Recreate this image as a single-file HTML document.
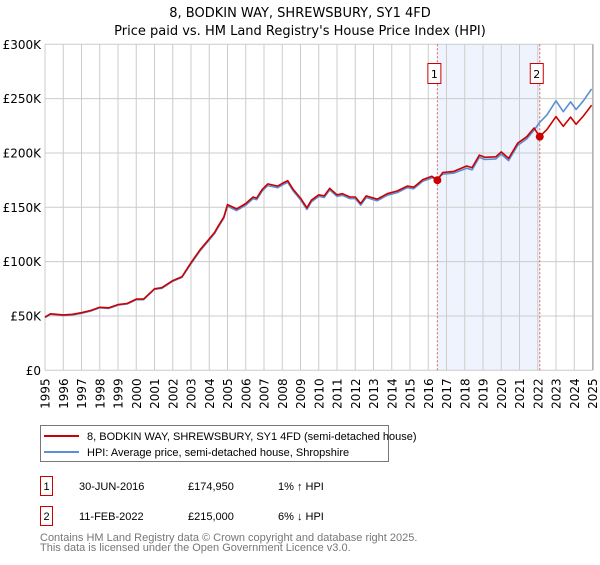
<!DOCTYPE html>
<html><head><meta charset="utf-8"><style>
body{margin:0;background:#fff;font-family:"Liberation Sans","DejaVu Sans",sans-serif;}
svg text{font-family:"DejaVu Sans","Liberation Sans",sans-serif;}
svg text.ls{font-family:"Liberation Sans","DejaVu Sans",sans-serif;}
</style></head><body>
<svg id="c" width="600" height="560" xmlns="http://www.w3.org/2000/svg">
<text x="300" y="17" text-anchor="middle" font-size="13">8, BODKIN WAY, SHREWSBURY, SY1 4FD</text>
<text x="300" y="35" text-anchor="middle" font-size="13">Price paid vs. HM Land Registry's House Price Index (HPI)</text>
<g id="plot"></g>
<g>
<rect x="40.5" y="425.5" width="348" height="36" fill="#fff" stroke="#777"/>
<line x1="44" y1="436" x2="79" y2="436" stroke="#cc0000" stroke-width="2"/>
<text class="ls" x="87" y="440" font-size="11">8, BODKIN WAY, SHREWSBURY, SY1 4FD (semi-detached house)</text>
<line x1="44" y1="452" x2="79" y2="452" stroke="#5b8fd4" stroke-width="2"/>
<text class="ls" x="87" y="456" font-size="11">HPI: Average price, semi-detached house, Shropshire</text>
</g>
<g font-size="11">
<rect x="40.5" y="476.5" width="12" height="19" fill="#fff" stroke="#cc0000"/>
<text class="ls" x="46.5" y="490" text-anchor="middle">1</text>
<text class="ls" x="79" y="490">30-JUN-2016</text><text class="ls" x="188" y="490">£174,950</text><text class="ls" x="278" y="490">1% ↑ HPI</text>
<rect x="40.5" y="506.5" width="12" height="19" fill="#fff" stroke="#cc0000"/>
<text class="ls" x="46.5" y="520" text-anchor="middle">2</text>
<text class="ls" x="79" y="520">11-FEB-2022</text><text class="ls" x="188" y="520">£215,000</text><text class="ls" x="278" y="520">6% ↓ HPI</text>
</g>
<text class="ls" x="40" y="541" font-size="11" fill="#777">Contains HM Land Registry data © Crown copyright and database right 2025.</text>
<text class="ls" x="40" y="551" font-size="11" fill="#777">This data is licensed under the Open Government Licence v3.0.</text>
</svg>
<script>
const hpiYears=[1995,1995.3,1996,1996.5,1997,1997.5,1998,1998.5,1999,1999.5,2000,2000.4,2001,2001.4,2002,2002.5,2003,2003.5,2004,2004.3,2004.5,2004.8,2005,2005.5,2006,2006.4,2006.6,2006.9,2007.2,2007.75,2008.05,2008.3,2008.6,2009,2009.35,2009.6,2010,2010.3,2010.6,2011,2011.3,2011.7,2012,2012.3,2012.6,2013.2,2013.75,2014.3,2014.85,2015.2,2015.7,2016.2,2016.5,2016.8,2017.4,2018.1,2018.4,2018.8,2019.1,2019.7,2020,2020.4,2020.9,2021.4,2021.8,2022.1,2022.5,2023,2023.4,2023.8,2024.1,2024.5,2024.95];
const hpiValues=[48500,51500,50500,51000,52500,54500,57500,57000,60000,61000,65000,65000,74500,75500,82000,85500,98000,110000,120000,126000,132000,140000,151000,147000,152000,158000,157000,165000,170000,168000,171000,173000,165000,157000,148000,155000,160000,159000,166000,160000,161000,158000,158000,152000,159000,156000,161000,163500,168000,167000,174000,177000,177000,180500,181500,186000,184500,196000,194000,194500,199000,193000,207000,213000,221000,228000,235000,248000,238000,247000,240000,248000,259000];
const ppYears=hpiYears;
const ppValues=[49000,52000,51000,51500,53000,55000,58000,57500,60500,61500,65500,65500,75000,76000,82500,86000,99000,111000,121000,127000,133000,141000,152500,148500,153500,159500,158500,166500,171500,169500,172500,174500,166500,158500,149500,156500,161500,160500,167500,161500,162500,159500,159500,153500,160500,157500,162500,165000,169500,168500,175500,178500,174950,182000,183000,188000,186500,198000,196000,196500,201000,195000,209000,215000,223000,215000,221500,233500,224500,233000,226500,234000,244000];
const saleDates=[2016.5,2022.11];
const saleValues=[174950,215000];
const saleLabels=["1","2"];
const yTicks=[0,50000,100000,150000,200000,250000,300000];
const yTickLabels=["£0","£50K","£100K","£150K","£200K","£250K","£300K"];
const xTicks=[1995,1996,1997,1998,1999,2000,2001,2002,2003,2004,2005,2006,2007,2008,2009,2010,2011,2012,2013,2014,2015,2016,2017,2018,2019,2020,2021,2022,2023,2024,2025];

const X0=45,X1=592.5,Y0=370.3,Y1=44.3;
const xs=y=>X0+(y-1995)/30*(X1-X0);
const ys=v=>Y0-v/300000*(Y0-Y1);
const NS="http://www.w3.org/2000/svg";
const g=document.getElementById('plot');
function mk(t,a){const e=document.createElementNS(NS,t);for(const k in a)e.setAttribute(k,a[k]);g.appendChild(e);return e;}

const sh=mk('rect',{x:xs(saleDates[0]),y:Y1,width:xs(saleDates[1])-xs(saleDates[0]),height:Y0-Y1,fill:'#eef3fd'});


xTicks.forEach(t=>{
  const l=mk('line',{x1:xs(t),x2:xs(t),y1:Y1,y2:Y0,stroke:'#cccccc','stroke-width':1});
  
  
  const tx=mk('text',{x:0,y:0,'font-size':12,'text-anchor':'end',transform:`translate(${xs(t)+4.5},${Y0+8}) rotate(-90)`});
  tx.textContent=t;
  
  
});
yTicks.forEach((t,i)=>{
  const l=mk('line',{x1:X0,x2:X1,y1:ys(t),y2:ys(t),stroke:'#cccccc','stroke-width':1});
  
  
  const tx=mk('text',{x:41,y:ys(t)+4.5,'font-size':12,'text-anchor':'end'});
  tx.textContent=yTickLabels[i];
  
  
});
const rb=mk('line',{x1:X1+0.5,x2:X1+0.5,y1:Y1,y2:Y0,stroke:'#999','stroke-width':1});


saleDates.forEach((d,i)=>{
  const l=mk('line',{x1:xs(d),x2:xs(d),y1:Y1,y2:Y0,stroke:'#e06060','stroke-width':1,'stroke-dasharray':'2,2'});
  
  
  const bx=mk('rect',{x:xs(d)-9.5,y:63.5,width:13,height:20,fill:'#fff',stroke:'#cc0000'});
  
  
  const tx=mk('text',{x:xs(d)-3,y:78,'font-size':11,'text-anchor':'middle'});
  tx.textContent=saleLabels[i];
  
  
});
function path(xa,va,col,name){
  const d=xa.map((x,i)=>(i?'L':'M')+xs(x).toFixed(1)+','+ys(va[i]).toFixed(1)).join('');
  const p=mk('path',{d:d,fill:'none',stroke:col,'stroke-width':1.6,'stroke-linejoin':'round'});
  
  
}
path(hpiYears,hpiValues,'#5b8fd4','hpi-line');
path(ppYears,ppValues,'#cc0000','property-line');
saleDates.forEach((d,i)=>{
  const c=mk('circle',{cx:xs(d),cy:ys(saleValues[i]),r:4,fill:'#cc0000'});
  
  
});
</script>
</body></html>
